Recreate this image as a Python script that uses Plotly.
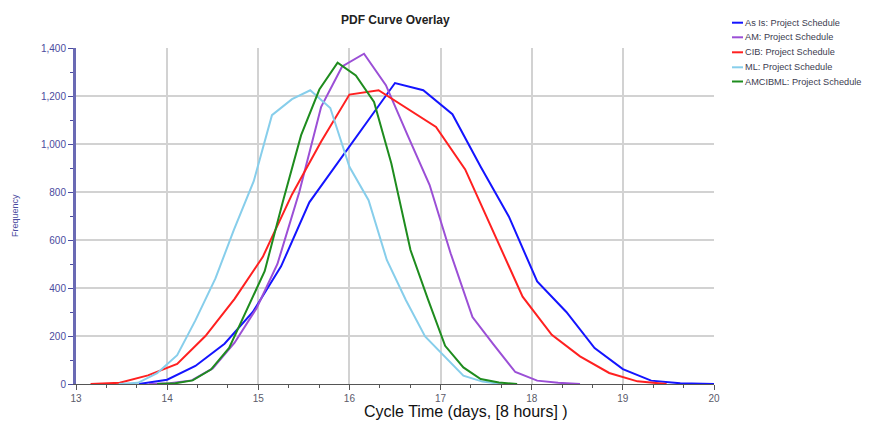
import plotly.graph_objects as go

# ---- data ----
series_names = ["As Is: Project Schedule", "AM: Project Schedule", "CIB: Project Schedule",
                "ML: Project Schedule", "AMCIBML: Project Schedule"]
series_colors = ["#1414ff", "#9b4fd6", "#ff2020", "#87ceeb", "#1e8c1e"]

asis_x = [13.69, 14.0, 14.31, 14.63, 14.94, 15.25, 15.56, 15.88, 16.19, 16.5, 16.81, 17.13,
          17.44, 17.75, 18.06, 18.38, 18.69, 19.0, 19.31, 19.63, 20.0]
asis_y = [0, 18, 75, 168, 300, 490, 757, 926, 1090, 1254, 1224, 1124, 905, 697, 427, 300,
          150, 62, 14, 3, 0]

am_x = [13.8, 14.03, 14.27, 14.5, 14.74, 14.98, 15.21, 15.45, 15.69, 15.92, 16.16, 16.4,
        16.64, 16.88, 17.11, 17.35, 17.58, 17.82, 18.06, 18.29, 18.53]
am_y = [0, 3, 15, 65, 172, 315, 500, 800, 1155, 1323, 1376, 1245, 1035, 829, 545, 279,
        165, 50, 14, 5, 0]

cib_x = [13.16, 13.48, 13.79, 14.11, 14.42, 14.74, 15.05, 15.37, 15.69, 16.0, 16.32, 16.63,
         16.95, 17.27, 17.58, 17.9, 18.22, 18.53, 18.85, 19.16, 19.48]
cib_y = [0, 5, 36, 84, 200, 355, 530, 790, 1010, 1206, 1224, 1150, 1071, 894, 632, 364,
         205, 115, 46, 11, 0]

ml_x = [13.47, 13.68, 13.89, 14.11, 14.31, 14.53, 14.73, 14.95, 15.15, 15.37, 15.57, 15.79,
        16.0, 16.21, 16.41, 16.62, 16.83, 17.04, 17.25, 17.46, 17.67]
ml_y = [0, 5, 45, 120, 265, 440, 640, 845, 1120, 1187, 1224, 1150, 905, 766, 517, 349,
        198, 115, 35, 10, 0]

amcibml_x = [13.89, 14.09, 14.28, 14.48, 14.68, 14.88, 15.07, 15.27, 15.47, 15.67, 15.87,
             16.07, 16.27, 16.46, 16.67, 16.86, 17.05, 17.25, 17.44, 17.64, 17.84]
amcibml_y = [0, 3, 15, 60, 150, 315, 470, 760, 1037, 1227, 1339, 1286, 1175, 919, 558, 355,
             159, 69, 21, 6, 0]

x_ticks = [13, 14, 15, 16, 17, 18, 19, 20]
y_ticks = [0, 200, 400, 600, 800, 1000, 1200, 1400]

all_x = [asis_x, am_x, cib_x, ml_x, amcibml_x]
all_y = [asis_y, am_y, cib_y, ml_y, amcibml_y]

FONT = "Liberation Sans, Arial, sans-serif"
AXIS_BLUE = "#4b4b9e"

fig = go.Figure()
for name, color, xs, ys in zip(series_names, series_colors, all_x, all_y):
    fig.add_trace(go.Scatter(x=xs, y=ys, mode="lines", name=name,
                             line=dict(color=color, width=2), showlegend=False))

# page is rendered with an 8px body margin; compensate
OFF = 8
PAGE_W, PAGE_H = 870, 422
W, H = PAGE_W - OFF, PAGE_H - OFF
# plot area in page pixels
PX0, PX1, PY0, PY1 = 76, 714, 48, 384
L, T = PX0 - OFF, PY0 - OFF
R, B = PAGE_W - PX1, PAGE_H - PY1
plot_w = PX1 - PX0
plot_h = PY1 - PY0


def xp(px):
    return (px - PX0) / plot_w


def yp(py):
    return (PY1 - py) / plot_h


fig.update_layout(
    width=W, height=H,
    margin=dict(l=L, r=R, t=T, b=B),
    paper_bgcolor="white", plot_bgcolor="white",
    font=dict(family=FONT, size=10, color="#555555"),
    showlegend=False,
)

fig.update_xaxes(
    range=[13, 20], tickvals=x_ticks, ticktext=[str(v) for v in x_ticks],
    showgrid=True, gridcolor="#d2d2d2", gridwidth=1.5,
    showline=True, linecolor="#555555", linewidth=1,
    ticks="outside", ticklen=5, tickcolor="#555555",
    minor=dict(dtick=1 / 3, ticks="outside", ticklen=3, tickcolor="#555555", showgrid=False),
    tickfont=dict(family=FONT, size=10, color="#5a5a6a"),
    zeroline=False,
)
fig.update_yaxes(
    range=[0, 1400], tickvals=y_ticks, tickformat=",",
    showgrid=True, gridcolor="#d2d2d2", gridwidth=1.5,
    showline=True, linecolor="#6a6ab4", linewidth=3,
    ticks="outside", ticklen=5, tickcolor=AXIS_BLUE,
    minor=dict(dtick=100, ticks="outside", ticklen=3, tickcolor=AXIS_BLUE, showgrid=False),
    tickfont=dict(family=FONT, size=10, color=AXIS_BLUE),
    zeroline=False,
)

# title
fig.add_annotation(text="<b>PDF Curve Overlay</b>", xref="paper", yref="paper",
                   x=xp(395), y=yp(20), xanchor="center", yanchor="middle", showarrow=False,
                   font=dict(family=FONT, size=12, color="#222222"))
# axis titles
fig.add_annotation(text="Cycle Time (days, [8 hours] )", xref="paper", yref="paper",
                   x=xp(466), y=yp(411), xanchor="center", yanchor="middle", showarrow=False,
                   font=dict(family=FONT, size=16, color="#111111"))
fig.add_annotation(text="Frequency", xref="paper", yref="paper",
                   x=xp(15), y=yp(216), textangle=-90,
                   xanchor="center", yanchor="middle", showarrow=False,
                   font=dict(family=FONT, size=9, color=AXIS_BLUE))

# legend (drawn manually to match compact layout)
row_px = [22.7, 37.3, 52.3, 67.3, 81.5]
for name, color, py in zip(series_names, series_colors, row_px):
    fig.add_shape(type="line", xref="paper", yref="paper",
                  x0=xp(732), x1=xp(743), y0=yp(py), y1=yp(py),
                  line=dict(color=color, width=2))
    fig.add_annotation(text=name, xref="paper", yref="paper",
                       x=xp(744), y=yp(py), xanchor="left", yanchor="middle",
                       showarrow=False, borderpad=0,
                       font=dict(family=FONT, size=9.2, color="#3c3c50"))

fig.write_html("out.html")
